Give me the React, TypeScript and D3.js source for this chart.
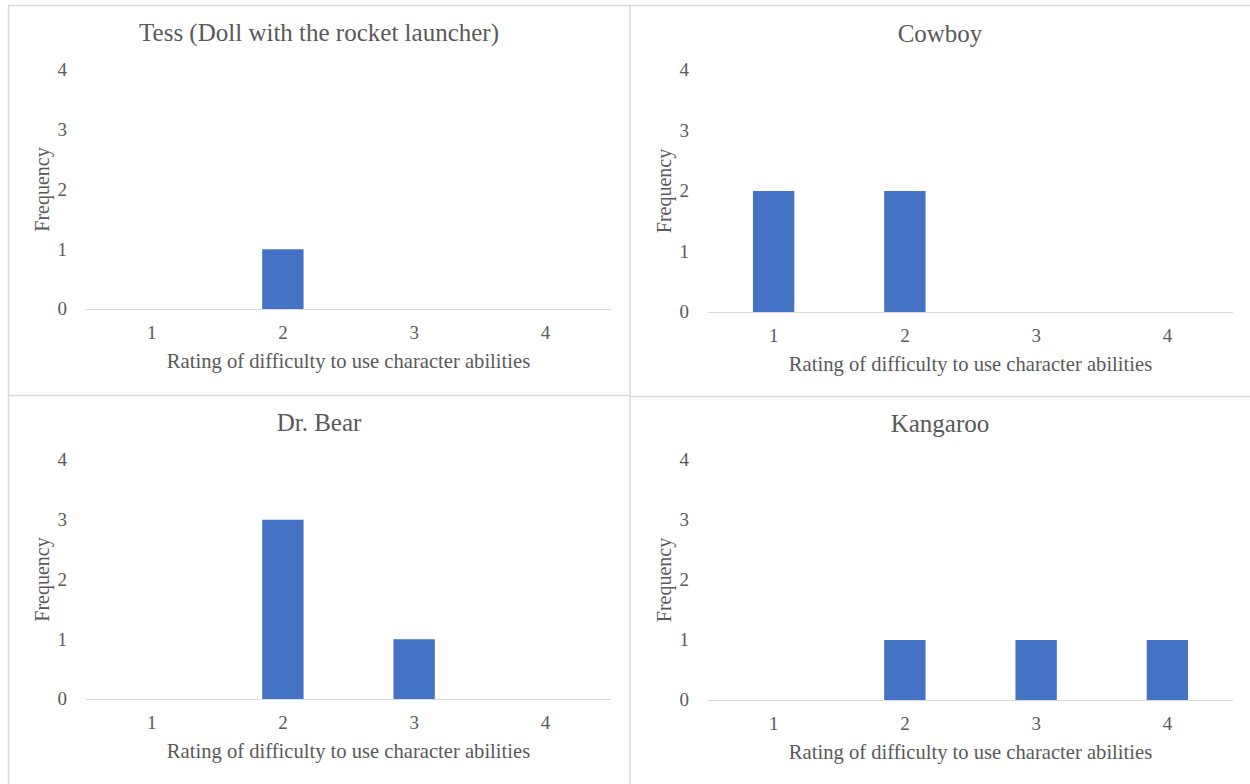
import React from "react";
import * as d3 from "d3";

const ratings = ["1", "2", "3", "4"];
const yTicks = [0, 1, 2, 3, 4];
const titles = ["Tess (Doll with the rocket launcher)", "Cowboy", "Dr. Bear", "Kangaroo"];
const tessValues = [0, 1, 0, 0];
const cowboyValues = [2, 2, 0, 0];
const drBearValues = [0, 3, 1, 0];
const kangarooValues = [0, 1, 1, 1];
const seriesValues = [tessValues, cowboyValues, drBearValues, kangarooValues];
const xTitle = "Rating of difficulty to use character abilities";
const yTitle = "Frequency";

// layout (positions kept separate from data)
const layout = [
  { bx0: 8, by0: 5, bx1: 630, by1: 395, pl: 86, pr: 611, pt: 70, pb: 309 },
  { bx0: 630, by0: 6, bx1: 1250, by1: 396, pl: 708, pr: 1233, pt: 70, pb: 312 },
  { bx0: 8, by0: 395, bx1: 630, by1: 784, pl: 86, pr: 611, pt: 460, pb: 699 },
  { bx0: 630, by0: 396, bx1: 1250, by1: 784, pl: 708, pr: 1233, pt: 460, pb: 700 },
];

const FONT = "Liberation Serif, DejaVu Serif, serif";
const TEXT = "#595959";
const BAR = "#4472C4";
const LINE = "#d9d9d9";
const ts = (size: number) => ({ fontFamily: FONT, fontSize: size + "px", fill: TEXT });

function Panel({ idx }: { idx: number }) {
  const L = layout[idx];
  const values = seriesValues[idx];
  const x = d3.scaleBand<string>().domain(ratings).range([L.pl, L.pr]).paddingInner(0).paddingOuter(0);
  const y = d3.scaleLinear().domain([0, 4]).range([L.pb, L.pt]);
  const barW = x.bandwidth() * 0.315;
  const cx = (L.bx0 + L.bx1) / 2;
  const pcx = (L.pl + L.pr) / 2;
  const pcy = (L.pt + L.pb) / 2;
  return (
    <g>
      <text x={cx} y={L.by0 + 35.5} textAnchor="middle" style={ts(25)}>
        {titles[idx]}
      </text>
      {yTicks.map((t) => (
        <text key={t} x={L.pl - 19} y={y(t)} dy="0.34em" textAnchor="end" style={ts(19)}>
          {t}
        </text>
      ))}
      <line x1={L.pl} x2={L.pr} y1={y(0) + 0.5} y2={y(0) + 0.5} stroke={LINE} strokeWidth={1} />
      {ratings.map((r, i) =>
        values[i] > 0 ? (
          <rect
            key={r}
            x={(x(r) as number) + x.bandwidth() / 2 - barW / 2}
            y={y(values[i])}
            width={barW}
            height={y(0) - y(values[i])}
            fill={BAR}
          />
        ) : null
      )}
      {ratings.map((r) => (
        <text key={r} x={(x(r) as number) + x.bandwidth() / 2} y={L.pb + 30} textAnchor="middle" style={ts(19)}>
          {r}
        </text>
      ))}
      <text x={pcx} y={L.pb + 59} textAnchor="middle" style={ts(20.6)}>
        {xTitle}
      </text>
      <text transform={`translate(${L.pl - 37},${pcy}) rotate(-90)`} textAnchor="middle" style={ts(20)}>
        {yTitle}
      </text>
    </g>
  );
}

export default function App() {
  return (
    <svg
      width={1250}
      height={784}
      style={{ position: "absolute", left: 0, top: 0, background: "#fff", display: "block" }}
    >
      <rect x={0} y={0} width={1250} height={784} fill="#fff" />
      <line x1={8} x2={1250} y1={5.5} y2={5.5} stroke={LINE} strokeWidth={1.5} />
      <line x1={8} x2={630} y1={395.5} y2={395.5} stroke={LINE} strokeWidth={1.5} />
      <line x1={630} x2={1250} y1={396.5} y2={396.5} stroke={LINE} strokeWidth={1.5} />
      <line x1={8.5} x2={8.5} y1={5} y2={784} stroke={LINE} strokeWidth={1.5} />
      <line x1={630} x2={630} y1={5} y2={784} stroke={LINE} strokeWidth={1.5} />
      {layout.map((_, i) => (
        <Panel key={i} idx={i} />
      ))}
    </svg>
  );
}
